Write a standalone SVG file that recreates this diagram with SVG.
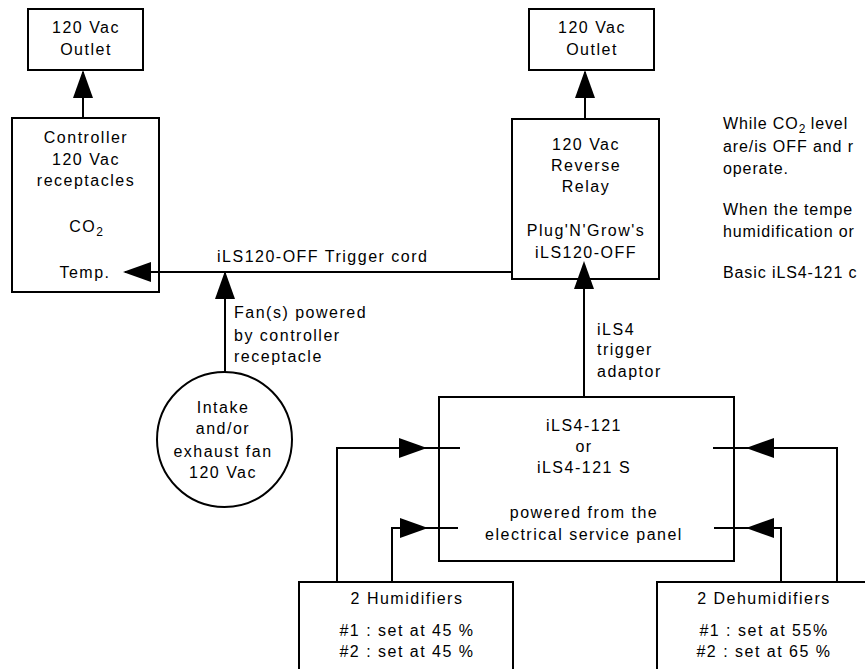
<svg xmlns="http://www.w3.org/2000/svg" xmlns:xlink="http://www.w3.org/1999/xlink" width="865" height="669" viewBox="0 0 865 669">
<style>
  .box { fill: #fff; stroke: #000; stroke-width: 2; }
  .ln { fill: none; stroke: #000; stroke-width: 2; }
  text { font-family: "Liberation Sans", Arial, sans-serif; font-size: 16px; letter-spacing: 1.5px; fill: #000; }
  .c { text-anchor: middle; }
  .sub { font-size: 12px; letter-spacing: 0; }
  .note { letter-spacing: 0.9px; }
</style>
<defs>
  <path id="ah" d="M0 0 L-28 -10 L-28 10 Z" fill="#000"/>
</defs>
<rect width="865" height="669" fill="#fff"/>

<g id="outlet-left">
  <rect class="box" x="28" y="9" width="115" height="61"/>
  <text class="c" x="86" y="33">120 Vac</text>
  <text class="c" x="86" y="55">Outlet</text>
</g>

<g id="controller">
  <rect class="box" x="12" y="118" width="147" height="174"/>
  <text class="c" x="86" y="143">Controller</text>
  <text class="c" x="86" y="165">120 Vac</text>
  <text class="c" x="86" y="186">receptacles</text>
  <text class="c" x="86" y="232">CO<tspan class="sub" dy="4">2</tspan></text>
  <text class="c" x="85" y="278">Temp.</text>
</g>

<g id="outlet-right">
  <rect class="box" x="529" y="9" width="125" height="61"/>
  <text class="c" x="592" y="33">120 Vac</text>
  <text class="c" x="592" y="55">Outlet</text>
</g>

<g id="relay">
  <rect class="box" x="512" y="119" width="147" height="160"/>
  <text class="c" x="586" y="150">120 Vac</text>
  <text class="c" x="586" y="171">Reverse</text>
  <text class="c" x="586" y="192">Relay</text>
  <text class="c" x="586" y="236">Plug'N'Grow's</text>
  <text class="c" x="586" y="258">iLS120-OFF</text>
</g>

<g id="fan">
  <circle class="box" cx="224.5" cy="439.5" r="67.5"/>
  <text class="c" x="223" y="413">Intake</text>
  <text class="c" x="223" y="434">and/or</text>
  <text class="c" x="223" y="457">exhaust fan</text>
  <text class="c" x="223" y="478">120 Vac</text>
</g>

<g id="ils4">
  <rect class="box" x="439" y="397" width="295" height="164"/>
  <text class="c" x="584" y="431">iLS4-121</text>
  <text class="c" x="584" y="452">or</text>
  <text class="c" x="584" y="473">iLS4-121 S</text>
  <text class="c" x="584" y="518">powered from the</text>
  <text class="c" x="584" y="540">electrical service panel</text>
</g>

<g id="humidifiers">
  <rect class="box" x="299" y="582" width="214" height="100"/>
  <text class="c" x="407" y="604">2 Humidifiers</text>
  <text class="c" x="407" y="636">#1 : set at 45 %</text>
  <text class="c" x="407" y="657">#2 : set at 45 %</text>
</g>

<g id="dehumidifiers">
  <rect class="box" x="657" y="582" width="214" height="100"/>
  <text class="c" x="764" y="604">2 Dehumidifiers</text>
  <text class="c" x="764" y="636">#1 : set at 55%</text>
  <text class="c" x="764" y="657">#2 : set at 65 %</text>
</g>

<g id="notes">
  <text class="note" x="723" y="129">While CO<tspan class="sub" dy="4">2</tspan><tspan dy="-4"> level</tspan></text>
  <text class="note" x="723" y="152">are/is OFF and r</text>
  <text class="note" x="723" y="174">operate.</text>
  <text class="note" x="723" y="215">When the tempe</text>
  <text class="note" x="723" y="237">humidification or</text>
  <text class="note" x="723" y="278">Basic iLS4-121 c</text>
</g>

<g id="connectors">
  <path class="ln" d="M83 118 V72"/>
  <use xlink:href="#ah" transform="translate(83,70) rotate(-90)"/>
  <path class="ln" d="M585 119 V72"/>
  <use xlink:href="#ah" transform="translate(585,70) rotate(-90)"/>
  <path class="ln" d="M125 272 H512"/>
  <use xlink:href="#ah" transform="translate(123,272) rotate(180)"/>
  <text x="217" y="262">iLS120-OFF Trigger cord</text>
  <path class="ln" d="M225 372 V272"/>
  <use xlink:href="#ah" transform="translate(225,271) rotate(-90)"/>
  <text x="234" y="318">Fan(s) powered</text>
  <text x="234" y="341">by controller</text>
  <text x="234" y="362">receptacle</text>
  <path class="ln" d="M584 397 V279"/>
  <use xlink:href="#ah" transform="translate(584,261) rotate(-90)"/>
  <text x="597" y="335">iLS4</text>
  <text x="597" y="355">trigger</text>
  <text x="597" y="377">adaptor</text>
  <path class="ln" d="M337 582 V448 H460"/>
  <use xlink:href="#ah" transform="translate(427,448)"/>
  <path class="ln" d="M392 582 V528 H458"/>
  <use xlink:href="#ah" transform="translate(428,528)"/>
  <path class="ln" d="M837 582 V448 H713"/>
  <use xlink:href="#ah" transform="translate(746,448) rotate(180)"/>
  <path class="ln" d="M781 582 V528 H714"/>
  <use xlink:href="#ah" transform="translate(746,528) rotate(180)"/>
</g>
</svg>
